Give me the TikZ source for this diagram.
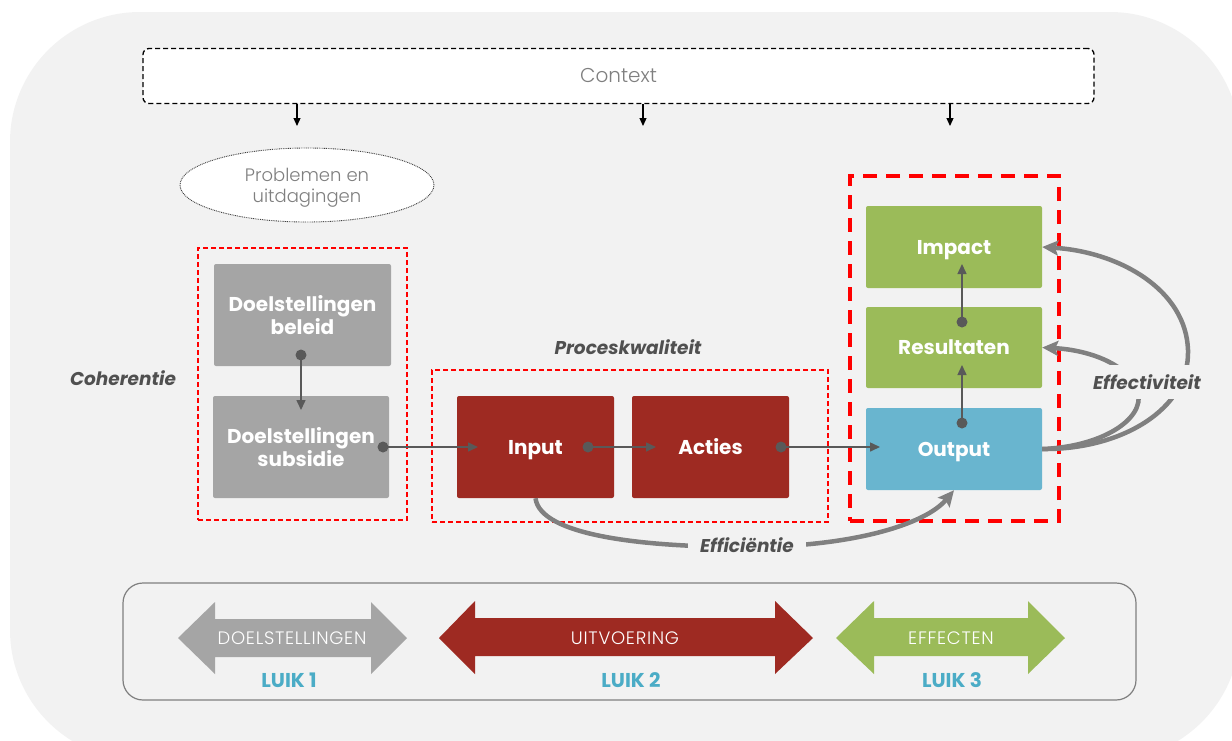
\documentclass[tikz,border=0pt]{standalone}
\usepackage{fontspec}
\setmainfont{Poppins}
\newfontfamily\lightf{Poppins Light}
\newfontfamily\lightsp[LetterSpace=4]{Poppins Light}
\usetikzlibrary{arrows.meta,shapes.geometric}
\definecolor{bg}{HTML}{F2F2F2}
\definecolor{boxgray}{HTML}{A5A5A5}
\definecolor{boxred}{HTML}{9E2A22}
\definecolor{boxgreen}{HTML}{9BBB59}
\definecolor{boxblue}{HTML}{69B5CF}
\definecolor{luikc}{HTML}{4BACC6}
\definecolor{connc}{HTML}{595959}
\definecolor{labelc}{HTML}{505050}
\definecolor{curvec}{HTML}{808080}
\definecolor{txtgray}{HTML}{7F7F7F}
\definecolor{dashred}{HTML}{FF0000}
\begin{document}
\begin{tikzpicture}[x=1pt,y=-1pt,
  blk/.style={rectangle, rounded corners=2pt, minimum width=176pt, minimum height=102pt,
    text=white, font=\bfseries\fontsize{20}{23}\selectfont, align=center, inner sep=0pt},
  blk1/.style={blk, text height=14pt, text depth=0pt},
  thinred/.style={draw=dashred, line width=1.3pt, dash pattern=on 5pt off 3pt},
  thickred/.style={draw=dashred, line width=3.6pt, dash pattern=on 14pt off 9pt},
  conn/.style={draw=connc, line width=1.5pt, -{Triangle[length=10pt,width=9pt]}},
  dotc/.style={fill=connc},
  ctxarr/.style={draw=black, line width=1.2pt, -{Triangle[length=8pt,width=7pt]}},
  bigcurve/.style={draw=curvec, line width=4.5pt, -{Stealth[length=16pt,width=15pt,inset=3pt]}},
  lbl/.style={font=\bfseries\itshape\fontsize{18.5}{21}\selectfont, text=labelc},
  gaplbl/.style={lbl, fill=bg},
  arrtxt/.style={font=\lightsp\fontsize{18}{20}\selectfont, text=white},
  luik/.style={font=\bfseries\fontsize{20}{22}\selectfont, text=luikc}
]
\useasboundingbox (0,0) rectangle (1232,740);
\begin{scope}
  \clip (0,0) rectangle (1232,740);
  \fill[bg, rounded corners=130pt] (10,12) rectangle (1240,760);
\end{scope}

% context
\node[draw=black, line width=1.3pt, dash pattern=on 5pt off 3pt, rounded corners=6pt, fill=white,
  minimum width=951pt, minimum height=55pt, font=\lightf\fontsize{20}{22}\selectfont, text=txtgray]
  (ctx) at (618.5,76) {Context};
\coordinate (c1) at (297,126);
\coordinate (c2) at (643,126);
\coordinate (c3) at (950,126);
\draw[ctxarr] (ctx.south -| c1) -- (c1);
\draw[ctxarr] (ctx.south -| c2) -- (c2);
\draw[ctxarr] (ctx.south -| c3) -- (c3);

% problems ellipse
\node[ellipse, draw=black!75, line width=0.9pt, dash pattern=on 0.9pt off 0.9pt, fill=white,
  minimum width=254pt, minimum height=74pt, inner sep=0pt] (prob) at (307,185) {};
\node[align=center, font=\lightf\fontsize{18}{21}\selectfont, text=txtgray] (probtxt) at (307,188) {Problemen en\\uitdagingen};

% group boxes
\node[thinred, minimum width=209pt, minimum height=272pt] (grp1) at (302.5,384) {};
\node[thinred, minimum width=396pt, minimum height=152pt] (grp2) at (630,446) {};
\node[thickred, minimum width=209pt, minimum height=345pt] (grp3) at (954.5,348.5) {};

% blocks
\node[blk, fill=boxgray, minimum width=177pt] (beleid) at (302.5,315) {Doelstellingen\\beleid};
\node[blk, fill=boxgray] (subs) at (301,447) {Doelstellingen\\subsidie};
\node[blk1, fill=boxred, minimum width=157pt] (input) at (535.5,447) {Input};
\node[blk1, fill=boxred, minimum width=157pt] (acties) at (710.5,447) {Acties};
\node[blk1, fill=boxgreen, minimum height=82pt] (impact) at (954,247) {Impact};
\node[blk1, fill=boxgreen, minimum height=81pt] (result) at (954,347.5) {Resultaten};
\node[blk1, fill=boxblue, minimum height=82pt] (output) at (954,449) {Output};

% labels
\node[lbl] (coh) at (123,378) {Coherentie};
\node[lbl] (proc) at (628,347) {Proceskwaliteit};

% connectors
\coordinate (d1) at (301,355); \coordinate (t1) at (301,410);
\coordinate (d2) at (383,447); \coordinate (t2) at (478,447);
\coordinate (d3) at (588,447); \coordinate (t3) at (656,447);
\coordinate (d4) at (781,447); \coordinate (t4) at (880,447);
\coordinate (d5) at (962,423); \coordinate (t5) at (962,365);
\coordinate (d6) at (962,322); \coordinate (t6) at (962,264);
\foreach \i in {1,...,6} {
  \draw[conn] (d\i) -- (t\i);
  \fill[dotc] (d\i) circle (5.5pt);
}

% efficiency curve
\draw[bigcurve] (input.south) .. controls (540,535) and (640,547) .. (747,547)
  .. controls (850,547) and (925,525) .. (output.south);
\node[gaplbl, inner xsep=12pt, inner ysep=4pt] (eff) at (747,545) {Efficiëntie};

% effectiveness curves
\draw[bigcurve] (output.east) .. controls (1120,450) and (1190,410) .. (1188,350)
  .. controls (1186,290) and (1120,252) .. (impact.east);
\draw[bigcurve] (output.east) .. controls (1100,447) and (1145,420) .. (1138,392)
  .. controls (1130,365) and (1090,350) .. (result.east);
\node[gaplbl, inner xsep=2pt, inner ysep=10pt] (effect) at (1147,382) {Effectiviteit};

% bottom box
\node[draw=txtgray, line width=1.2pt, rounded corners=20pt, fill=bg,
  minimum width=1013pt, minimum height=117pt] (luikbox) at (629.5,641.5) {};
\fill[boxgray] (178,638) -- (215,602) -- (215,619) -- (371,619) -- (371,602) -- (407,638)
  -- (371,674) -- (371,657) -- (215,657) -- (215,674) -- cycle;
\fill[boxred] (439,638) -- (475,601) -- (475,618) -- (775,618) -- (775,601) -- (813,638)
  -- (775,674) -- (775,656) -- (475,656) -- (475,674) -- cycle;
\fill[boxgreen] (836,638) -- (874,601) -- (874,618) -- (1028,618) -- (1028,601) -- (1065,638)
  -- (1028,674) -- (1028,656) -- (874,656) -- (874,674) -- cycle;
\node[arrtxt] (a1) at (292,638) {DOELSTELLINGEN};
\node[arrtxt] (a2) at (625,638) {UITVOERING};
\node[arrtxt] (a3) at (951,638) {EFFECTEN};
\node[luik] (l1) at (289,680) {LUIK 1};
\node[luik] (l2) at (631,680) {LUIK 2};
\node[luik] (l3) at (952,680) {LUIK 3};
\end{tikzpicture}
\end{document}
